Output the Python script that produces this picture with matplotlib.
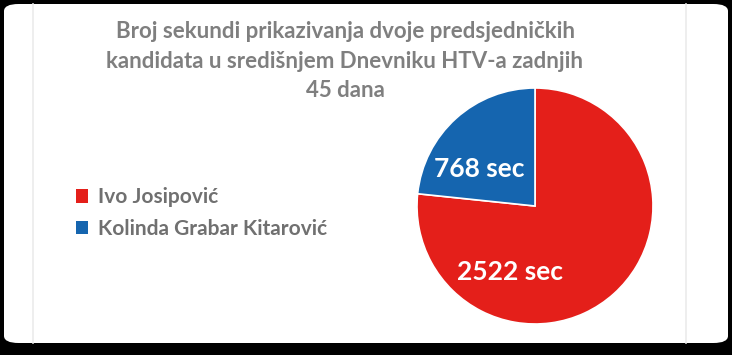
import matplotlib
matplotlib.use("Agg")
import matplotlib.pyplot as plt
from matplotlib.patches import FancyBboxPatch, Patch
from matplotlib.lines import Line2D

plt.rcParams['font.family'] = ['Lato', 'DejaVu Sans']

title = "Broj sekundi prikazivanja dvoje predsjedničkih\nkandidata u središnjem Dnevniku HTV-a zadnjih\n45 dana"
candidates = ["Ivo Josipović", "Kolinda Grabar Kitarović"]
seconds = [2522, 768]
value_labels = ["2522 sec", "768 sec"]
colors = ["#E41F1A", "#1565AF"]

W, H = 732, 355
fig = plt.figure(figsize=(W / 100, H / 100), dpi=100)
fig.patch.set_facecolor("black")

# white rounded card
card = FancyBboxPatch((4 / W, 12 / H), 724 / W, 339 / H,
                      boxstyle="round,pad=0,rounding_size=0.02",
                      transform=fig.transFigure, facecolor="white",
                      edgecolor="none", zorder=-2)
fig.patches.append(card)
for xp in (33, 686):
    fig.add_artist(Line2D([xp / W, xp / W], [12 / H, 351 / H], color="#ebebeb",
                          lw=1.2, transform=fig.transFigure, zorder=-1))

fig.text(345 / W, 1 - 61 / H, title, ha="center", va="center",
         fontsize=16, fontweight="bold", color="#7f7f7f", linespacing=1.52)

cx, cy, r = 535, 206, 118
ax = fig.add_axes([(cx - r) / W, 1 - (cy + r) / H, 2 * r / W, 2 * r / H])
ax.set_zorder(2)
wedges, _ = ax.pie(seconds, colors=colors, startangle=90, counterclock=False,
                   wedgeprops=dict(edgecolor="white", linewidth=1.2))
ax.set_xlim(-1, 1)
ax.set_ylim(-1, 1)
ax.axis("off")

label_pos = [(-0.21, -0.56), (-0.47, 0.31)]
for lbl, (px, py) in zip(value_labels, label_pos):
    ax.text(px, py, lbl, ha="center", va="center", color="white",
            fontsize=19, fontweight="bold")

handles = [Patch(facecolor=c, edgecolor="none") for c in colors]
leg = fig.legend(handles, candidates, loc="center left",
                 bbox_to_anchor=(57 / W, 1 - 213 / H), frameon=False,
                 handlelength=0.6, handleheight=0.6, handletextpad=0.45,
                 labelspacing=0.55, fontsize=15)
for t in leg.get_texts():
    t.set_color("#707070")
    t.set_fontweight("bold")

fig.savefig("out.png", dpi=100, facecolor="black")
